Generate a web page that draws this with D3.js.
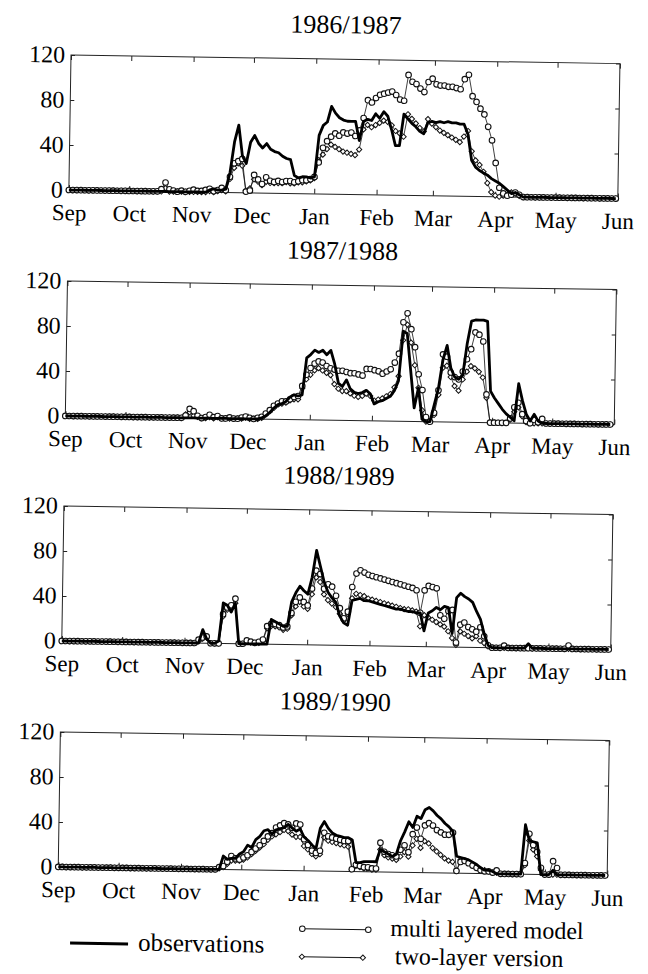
<!DOCTYPE html>
<html><head><meta charset="utf-8">
<script src="https://cdn.jsdelivr.net/npm/d3@7"></script>
<style>
body{margin:0;background:#fff}
svg{display:block}
text{font-family:"Liberation Serif","Times New Roman",serif;fill:#000}
</style>
</head><body>
<svg id="c" width="648" height="974"></svg>
<script>
const seasons = ["1986/1987","1987/1988","1988/1989","1989/1990"];
const startYears = [1986,1987,1988,1989];
const monthLabels = ["Sep","Oct","Nov","Dec","Jan","Feb","Mar","Apr","May","Jun"];
const yTicks = [0,40,80,120];
const stepDays = 2;
const legendLabels = ["observations","multi layered model","two-layer version"];

const p1Obs = [
0,0,0,0,0,0,0,0,0,0,
0,0,0,0,0,0,0,0,0,0,
0,0,0,0,0,0,0,0,0,0,
0,0,0,0,0,2,3,2,2,3,
18,45,60,33,26,45,51,44,40,44,
39,37,36,33,31,30,16,14,15,15,
14,15,52,61,64,78,72,68,66,65,
65,65,48,65,67,66,72,68,74,70,
58,44,44,72,68,64,61,57,55,65,
66,65,66,65,66,65,65,64,64,55,
32,26,23,21,19,16,14,12,9,6,
3,4,2,0,0,0,0,0,0,0,
0,0,0,0,0,0,0,0,0,0,
0,0,0,0,0,0,0];
const p1Multi = [
0,0,0,0,0,0,0,0,0,0,
0,0,0,0,0,0,0,0,0,0,
0,0,0,2,8,2,1,0,1,0,
1,2,1,1,2,3,1,2,4,2,
14,26,28,30,1,2,16,12,8,14,
11,10,11,10,11,11,10,11,12,12,
13,15,28,41,47,51,54,52,55,54,
55,52,57,68,84,82,86,89,90,91,
92,89,85,84,107,101,99,95,92,101,
104,99,98,98,97,97,96,95,104,108,
89,84,78,73,62,50,30,8,3,1,
2,4,2,0,0,0,0,0,0,0,
0,0,0,0,0,0,0,0,0,0,
0,0,0,0,0,0,0];
const p1Two = [
0,0,0,0,0,0,0,0,0,0,
0,0,0,0,0,0,0,0,0,0,
0,0,0,0,3,0,0,0,0,0,
0,0,0,0,0,1,0,1,2,1,
12,22,26,24,2,4,12,10,7,10,
9,9,9,9,10,9,9,10,10,11,
12,14,30,35,40,44,42,40,38,37,
36,35,40,58,62,60,62,64,66,65,
62,57,55,52,72,68,64,60,57,68,
64,61,58,56,54,52,50,48,53,58,
40,32,28,22,12,4,1,0,1,2,
4,3,1,0,0,0,0,0,0,0,
0,0,0,0,0,0,0,0,0,0,
0,0,0,0,0,0,0];

const p2Obs = [
0,0,0,0,0,0,0,0,0,0,
0,0,0,0,0,0,0,0,0,0,
0,0,0,0,0,0,0,0,0,0,
0,0,0,0,0,0,0,0,0,0,
0,0,0,0,0,0,0,0,0,1,
3,6,10,13,14,16,20,22,21,22,
55,58,62,60,62,58,62,50,33,30,
36,28,25,24,25,27,24,15,17,18,
20,22,27,36,80,78,45,12,30,2,
0,0,15,30,55,68,48,40,38,42,
70,90,91,91,91,90,28,22,17,12,
8,5,2,35,20,8,2,8,2,0,
0,0,0,0,0,0,0,0,0,0,
0,0,0,0,0,0,0];
const p2Multi = [
0,0,0,0,0,0,0,0,0,0,
0,0,0,0,0,0,0,0,0,0,
0,0,0,0,0,0,0,0,0,0,
2,8,6,2,0,1,3,1,2,0,
0,1,0,0,1,2,1,0,1,2,
5,8,12,14,16,16,18,20,21,30,
40,46,50,52,51,48,46,45,44,44,
43,42,42,41,40,46,46,45,44,42,
44,46,52,60,88,96,82,66,42,28,
4,0,8,28,60,58,44,40,38,45,
56,65,80,78,72,25,0,0,0,0,
0,4,14,18,8,2,0,3,1,4,
0,0,0,0,0,0,0,0,0,0,
0,0,0,0,0,0,0];
const p2Two = [
0,0,0,0,0,0,0,0,0,0,
0,0,0,0,0,0,0,0,0,0,
0,0,0,0,0,0,0,0,0,0,
3,5,2,1,0,0,1,0,1,0,
0,0,0,0,0,1,0,0,0,1,
4,7,10,13,14,15,17,18,18,28,
36,40,44,46,44,42,40,32,28,26,
26,24,22,21,22,24,22,18,19,20,
22,24,30,40,72,86,70,50,30,10,
0,0,6,24,48,50,40,32,28,38,
45,50,48,45,40,22,0,0,0,0,
0,3,10,14,6,1,0,0,0,0,
0,0,0,0,0,0,0,0,0,0,
0,0,0,0,0,0,0];

const p3Obs = [
0,0,0,0,0,0,0,0,0,0,
0,0,0,0,0,0,0,0,0,0,
0,0,0,0,0,0,0,0,0,0,
0,0,0,0,0,12,4,0,0,2,
36,34,28,36,0,0,0,0,0,0,
0,0,22,20,18,16,16,38,46,52,
48,45,60,84,70,56,47,42,38,26,
20,18,40,41,42,40,40,39,38,37,
36,35,34,33,33,32,31,31,30,30,
14,30,32,35,33,36,35,12,44,48,
45,43,40,32,25,12,2,0,0,0,
0,0,0,0,0,0,4,0,0,0,
0,0,0,0,0,0,0,0,0,0,
0,0,0,0,0,0,0];
const p3Multi = [
0,0,0,0,0,0,0,0,0,0,
0,0,0,0,0,0,0,0,0,0,
0,0,0,0,0,0,0,0,0,0,
0,0,0,0,3,5,6,0,0,0,
26,32,34,40,0,0,3,2,1,2,
4,16,18,18,17,15,16,28,38,42,
38,35,50,66,63,50,54,52,44,33,
24,30,52,64,67,65,63,62,61,60,
59,58,57,56,55,54,53,52,50,30,
50,54,53,52,28,25,32,33,4,20,
22,18,16,14,18,10,2,0,0,0,
2,0,0,0,0,0,0,0,0,0,
0,0,0,0,0,0,3,0,0,0,
0,0,0,0,0,0,0];
const p3Two = [
0,0,0,0,0,0,0,0,0,0,
0,0,0,0,0,0,0,0,0,0,
0,0,0,0,0,0,0,0,0,0,
0,0,0,0,2,4,5,0,0,0,
24,30,32,36,0,0,2,1,1,1,
3,14,16,16,15,13,14,26,34,38,
34,32,45,60,56,45,40,37,34,28,
22,28,42,46,45,44,42,41,40,39,
38,37,36,35,34,33,33,32,31,18,
28,26,24,22,20,18,14,8,2,14,
12,10,8,10,6,4,1,0,0,0,
0,0,0,0,0,0,0,0,0,0,
0,0,0,0,0,0,0,0,0,0,
0,0,0,0,0,0,0];

const p4Obs = [
0,0,0,0,0,0,0,0,0,0,
0,0,0,0,0,0,0,0,0,0,
0,0,0,0,0,0,0,0,0,0,
0,0,0,0,0,0,0,0,0,0,
0,12,9,10,10,14,16,22,20,27,
30,35,36,32,36,37,38,41,38,35,
37,30,27,23,20,38,44,38,34,32,
31,30,30,28,8,8,9,9,9,9,
20,18,16,14,16,28,36,45,40,50,
48,56,58,55,51,48,44,41,37,15,
14,13,12,10,8,5,3,3,2,0,
0,0,0,0,0,0,44,30,29,28,
0,0,0,4,0,0,0,0,0,0,
0,0,0,0,0,0,0];
const p4Multi = [
0,0,0,0,0,0,0,0,0,0,
0,0,0,0,0,0,0,0,0,0,
0,0,0,0,0,0,0,0,0,0,
0,0,0,0,0,0,0,0,0,0,
2,3,7,12,10,9,11,13,16,19,
22,26,30,33,38,40,42,41,38,42,
41,28,23,18,16,18,34,31,30,29,
28,27,27,2,6,5,4,4,3,3,
26,18,16,15,14,20,24,18,34,40,
30,42,44,42,38,36,34,34,36,2,
10,11,9,7,5,3,2,2,1,3,
0,0,0,0,0,0,10,36,26,20,
6,0,0,12,6,0,0,0,0,0,
0,0,0,0,0,0,0];
const p4Two = [
0,0,0,0,0,0,0,0,0,0,
0,0,0,0,0,0,0,0,0,0,
0,0,0,0,0,0,0,0,0,0,
0,0,0,0,0,0,0,0,0,0,
1,2,5,8,8,8,9,11,14,17,
20,23,27,30,32,34,36,35,32,30,
30,22,19,15,13,15,30,27,26,25,
24,23,22,2,5,4,3,3,2,2,
20,15,13,12,11,14,18,14,24,30,
22,28,26,22,19,16,13,11,10,2,
12,11,10,8,6,4,3,2,1,1,
0,0,0,0,0,0,8,30,22,16,
4,0,0,0,0,0,0,0,0,0,
0,0,0,0,0,0,0];

const panels = [
  {obs:p1Obs, multi:p1Multi, two:p1Two},
  {obs:p2Obs, multi:p2Multi, two:p2Two},
  {obs:p3Obs, multi:p3Multi, two:p3Two},
  {obs:p4Obs, multi:p4Multi, two:p4Two}
];

const L = 71, R = 620, H = 135;
const tops = [55, 281, 506, 732];
const FS = 24;
const FONT = "Liberation Serif, Times New Roman, serif";

const svg = d3.select("#c");
svg.append("rect").attr("width",648).attr("height",974).attr("fill","#fff");
const root = svg.append("g").attr("transform","rotate(0.9,71,55)");

const diamond = d3.symbol(d3.symbolSquare, 14);

panels.forEach((p,k) => {
  const yr = startYears[k];
  const start = new Date(Date.UTC(yr,8,1));
  const end = new Date(Date.UTC(yr+1,5,1));
  const x = d3.scaleUtc().domain([start,end]).range([L,R]);
  const y = d3.scaleLinear().domain([0,120]).range([tops[k]+H, tops[k]]);
  const months = d3.utcMonth.range(start, d3.utcDay.offset(end,1));
  const g = root.append("g");

  g.append("text").attr("x",(L+R)/2).attr("y",tops[k]-26)
    .attr("text-anchor","middle").attr("font-size",26).attr("font-family",FONT).text(seasons[k]);

  g.append("rect").attr("x",L).attr("y",tops[k]).attr("width",R-L).attr("height",H)
    .attr("fill","none").attr("stroke","#222").attr("stroke-width",1);

  const ax = g.append("g").attr("transform",`translate(0,${tops[k]+H})`)
    .call(d3.axisBottom(x).tickValues(months).tickSize(-5).tickPadding(14)
      .tickFormat((d,i)=>monthLabels[i]));
  ax.attr("font-family",FONT);
  ax.select(".domain").remove();
  ax.selectAll("text").attr("font-size",FS-1).attr("font-family",FONT);
  ax.selectAll("line").attr("stroke","#222");

  const at = g.append("g").attr("transform",`translate(0,${tops[k]})`)
    .call(d3.axisTop(x).tickValues(months).tickSize(-5).tickFormat(""));
  at.select(".domain").remove();
  at.selectAll("line").attr("stroke","#222");

  const ay = g.append("g").attr("transform",`translate(${L},0)`)
    .call(d3.axisLeft(y).tickValues(yTicks).tickSize(-4).tickPadding(6));
  ay.attr("font-family",FONT);
  ay.select(".domain").remove();
  ay.selectAll("text").attr("font-size",FS).attr("font-family",FONT).attr("dy","0.3em");
  ay.selectAll("line").attr("stroke","#222");

  const ar = g.append("g").attr("transform",`translate(${R},0)`)
    .call(d3.axisRight(y).tickValues(yTicks).tickSize(-4).tickFormat(""));
  ar.select(".domain").remove();
  ar.selectAll("line").attr("stroke","#222");

  const toPts = arr => arr.map((v,i)=>({date:d3.utcDay.offset(start,i*stepDays), v}))
    .filter(d => d.date <= end);
  const line = d3.line().x(d=>x(d.date)).y(d=>y(d.v));

  const two = toPts(p.two), multi = toPts(p.multi), obs = toPts(p.obs);

  g.append("path").datum(two).attr("d",line).attr("fill","none")
    .attr("stroke","#111").attr("stroke-width",0.8);
  g.append("g").selectAll("path").data(two).join("path")
    .attr("d",diamond)
    .attr("transform",d=>`translate(${x(d.date)},${y(d.v)}) rotate(45)`)
    .attr("fill","#fff").attr("stroke","#111").attr("stroke-width",1);

  g.append("path").datum(multi).attr("d",line).attr("fill","none")
    .attr("stroke","#111").attr("stroke-width",0.8);
  g.append("g").selectAll("circle").data(multi).join("circle")
    .attr("cx",d=>x(d.date)).attr("cy",d=>y(d.v)).attr("r",2.8)
    .attr("fill","#fff").attr("stroke","#111").attr("stroke-width",1.1);

  g.append("path").datum(obs).attr("d",line).attr("fill","none")
    .attr("stroke","#000").attr("stroke-width",2.8).attr("stroke-linejoin","round");
});

// legend
const LFS = 24;
const lg = root.append("g").attr("font-family",FONT);
lg.append("line").attr("x1",84).attr("x2",142).attr("y1",943).attr("y2",943)
  .attr("stroke","#000").attr("stroke-width",3);
lg.append("text").attr("x",152).attr("y",949.5).attr("font-size",LFS+1).attr("font-family",FONT).text(legendLabels[0]);

lg.append("line").attr("x1",316).attr("x2",382).attr("y1",925).attr("y2",925)
  .attr("stroke","#111").attr("stroke-width",1);
[316,382].forEach(cx => lg.append("circle").attr("cx",cx).attr("cy",925).attr("r",2.8)
  .attr("fill","#fff").attr("stroke","#111").attr("stroke-width",1));
lg.append("text").attr("x",404).attr("y",931).attr("font-size",LFS).attr("font-family",FONT).text(legendLabels[1]);

lg.append("line").attr("x1",316).attr("x2",377).attr("y1",953).attr("y2",953)
  .attr("stroke","#111").attr("stroke-width",1);
[316,377].forEach(cx => lg.append("path").attr("d",diamond)
  .attr("transform",`translate(${cx},953) rotate(45)`)
  .attr("fill","#fff").attr("stroke","#111").attr("stroke-width",1));
lg.append("text").attr("x",409).attr("y",959).attr("font-size",LFS).attr("font-family",FONT).text(legendLabels[2]);
</script>
</body></html>
